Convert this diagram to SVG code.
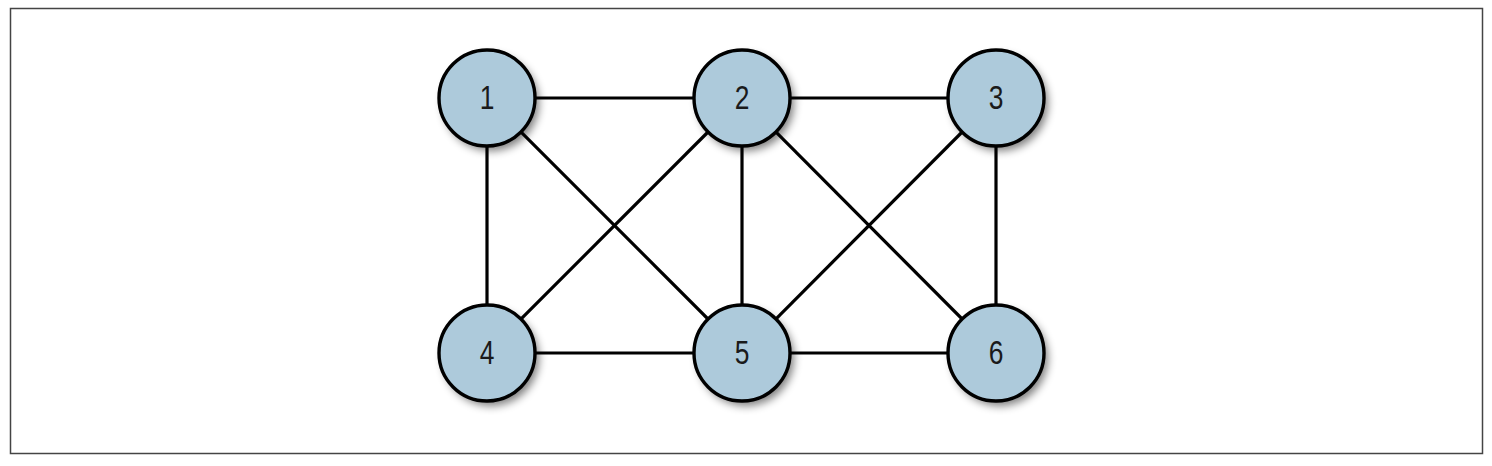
<svg xmlns="http://www.w3.org/2000/svg" width="1492" height="466" viewBox="0 0 1492 466">
<style>
.edge{stroke:#000;stroke-width:3.2;fill:none}
.node circle.body{fill:#adcadb;stroke:#000;stroke-width:3.4}
.node circle.shadow{fill:#000;opacity:0.5;filter:url(#blur)}
.node text{font-family:"Liberation Sans",Arial,sans-serif;font-size:33px;fill:#1a1a1a;text-anchor:middle;dominant-baseline:central}
</style>
<defs>
<filter id="blur" x="-30%" y="-30%" width="160%" height="160%"><feGaussianBlur stdDeviation="4"/></filter>
</defs>
<rect x="10.5" y="8.5" width="1472" height="445" fill="#fff" stroke="#444" stroke-width="1.5"/>
<g id="connectors">
<line class="edge" x1="487" y1="98" x2="742" y2="98"/>
<line class="edge" x1="742" y1="98" x2="996" y2="98"/>
<line class="edge" x1="487" y1="353" x2="742" y2="353"/>
<line class="edge" x1="742" y1="353" x2="996" y2="353"/>
<line class="edge" x1="487" y1="98" x2="487" y2="353"/>
<line class="edge" x1="742" y1="98" x2="742" y2="353"/>
<line class="edge" x1="996" y1="98" x2="996" y2="353"/>
<line class="edge" x1="487" y1="98" x2="742" y2="353"/>
<line class="edge" x1="742" y1="98" x2="487" y2="353"/>
<line class="edge" x1="742" y1="98" x2="996" y2="353"/>
<line class="edge" x1="996" y1="98" x2="742" y2="353"/>
</g>
<g id="node1" class="node"><circle class="shadow" cx="491" cy="103" r="48"/><circle class="body" cx="487" cy="98" r="48"/><text transform="translate(487 97) scale(0.8 1)">1</text></g>
<g id="node2" class="node"><circle class="shadow" cx="746" cy="103" r="48"/><circle class="body" cx="742" cy="98" r="48"/><text transform="translate(742 97) scale(0.8 1)">2</text></g>
<g id="node3" class="node"><circle class="shadow" cx="1000" cy="103" r="48"/><circle class="body" cx="996" cy="98" r="48"/><text transform="translate(996 97) scale(0.8 1)">3</text></g>
<g id="node4" class="node"><circle class="shadow" cx="491" cy="358" r="48"/><circle class="body" cx="487" cy="353" r="48"/><text transform="translate(487 352) scale(0.8 1)">4</text></g>
<g id="node5" class="node"><circle class="shadow" cx="746" cy="358" r="48"/><circle class="body" cx="742" cy="353" r="48"/><text transform="translate(742 352) scale(0.8 1)">5</text></g>
<g id="node6" class="node"><circle class="shadow" cx="1000" cy="358" r="48"/><circle class="body" cx="996" cy="353" r="48"/><text transform="translate(996 352) scale(0.8 1)">6</text></g>
</svg>
